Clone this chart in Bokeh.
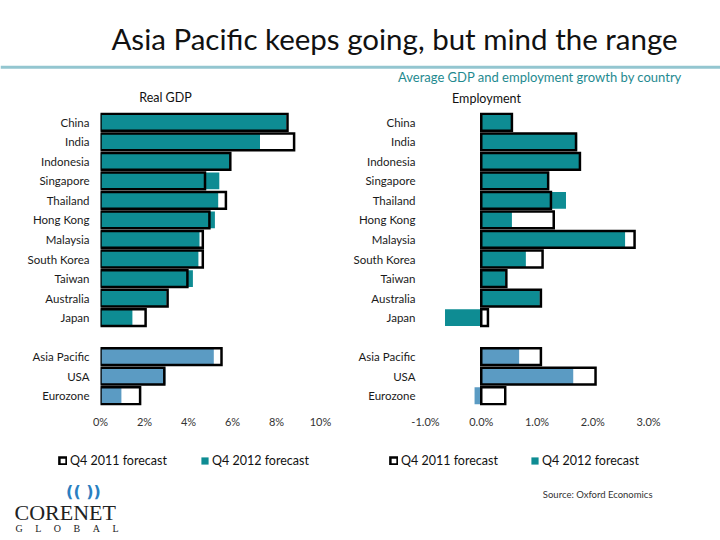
from bokeh.plotting import figure
from bokeh.models import (Range1d, FixedTicker, PrintfTickFormatter, Label, Span,
                          Legend, LegendItem, ColumnDataSource)
from bokeh.layouts import column, row
from bokeh.embed import file_html
from bokeh.resources import INLINE

# ---------------- data ----------------
countries = ["China", "India", "Indonesia", "Singapore", "Thailand", "Hong Kong",
             "Malaysia", "South Korea", "Taiwan", "Australia", "Japan"]
regions = ["Asia Pacific", "USA", "Eurozone"]

gdp_2011_c = [8.5, 8.8, 5.9, 4.75, 5.7, 4.95, 4.65, 4.65, 3.95, 3.05, 2.05]
gdp_2012_c = [8.45, 7.25, 5.85, 5.4, 5.35, 5.2, 4.5, 4.45, 4.2, 3.0, 1.45]
gdp_2011_r = [5.5, 2.9, 1.8]
gdp_2012_r = [5.15, 2.95, 0.95]

emp_2011_c = [0.55, 1.7, 1.77, 1.2, 1.25, 1.3, 2.75, 1.1, 0.45, 1.07, 0.12]
emp_2012_c = [0.55, 1.72, 1.77, 1.2, 1.52, 0.55, 2.58, 0.8, 0.43, 1.05, -0.65]
emp_2011_r = [1.07, 2.05, 0.43]
emp_2012_r = [0.68, 1.65, -0.12]

gdp_ticks = [0, 2, 4, 6, 8, 10]
emp_ticks = [-1.0, 0.0, 1.0, 2.0, 3.0]

series_labels = ["Q4 2011 forecast", "Q4 2012 forecast"]

TEAL = "#0E8C93"
LIGHT = "#5B9BC3"
FONT = "Lato"
NB = "\u00a0"

names = countries + regions
ypos = list(range(len(countries))) + [len(countries) + 1 + i for i in range(len(regions))]
colors = [TEAL] * len(countries) + [LIGHT] * len(regions)


def blank(p):
    p.outline_line_color = None
    p.xgrid.visible = False
    p.ygrid.visible = False


def chart(width, border_left, frame_w, xr, ticks, fmt, v2011, v2012, standoff):
    p = figure(width=width, height=335, output_backend="svg", toolbar_location=None,
               x_range=Range1d(*xr), y_range=Range1d(len(names) + 0.5, -0.5),
               min_border_left=border_left, min_border_right=width - border_left - frame_w,
               min_border_top=7, min_border_bottom=35)
    blank(p)
    src = ColumnDataSource(dict(y=ypos, v11=v2011, v12=v2012, c=colors))
    p.hbar(y="y", left=0, right="v12", height=0.86, fill_color="c",
           line_color=None, source=src)
    p.hbar(y="y", left=0, right="v11", height=0.86, fill_color=None,
           line_color="black", line_width=2.5, line_join="miter", source=src)

    ya = p.yaxis[0]
    ya.ticker = FixedTicker(ticks=ypos)
    ya.major_label_overrides = {y: n for y, n in zip(ypos, names)}
    ya.axis_line_color = None
    ya.major_tick_line_color = None
    ya.minor_tick_line_color = None
    ya.major_label_standoff = standoff
    ya.major_label_text_font = FONT
    ya.major_label_text_font_size = "11.5px"
    ya.major_label_text_color = "#1a1a1a"

    xa = p.xaxis[0]
    xa.ticker = FixedTicker(ticks=ticks)
    xa.formatter = PrintfTickFormatter(format=fmt)
    xa.axis_line_color = None
    xa.major_tick_line_color = None
    xa.minor_tick_line_color = None
    xa.major_label_standoff = 3
    xa.major_label_text_font = FONT
    xa.major_label_text_font_size = "11px"
    xa.major_label_text_color = "#333333"
    return p


left = chart(340, 100, 220, (0, 10), gdp_ticks, "%d%%", gdp_2011_c + gdp_2011_r,
             gdp_2012_c + gdp_2012_r, 5)
right = chart(380, 85, 223, (-1.0, 3.0), emp_ticks, "%.1f%%", emp_2011_c + emp_2011_r,
              emp_2012_c + emp_2012_r, 4)

# ---------------- header ----------------
header = figure(width=720, height=105, output_backend="svg", toolbar_location=None,
                x_range=Range1d(0, 720), y_range=Range1d(105, 0),
                min_border=0, x_axis_type=None, y_axis_type=None)
blank(header)
header.add_layout(Span(location=66.7, dimension="width", line_color="#93C6D0", line_width=3))
header.add_layout(Label(x=394, y=38, text="Asia Pacific keeps going, but mind the range",
                        text_align="center", text_baseline="middle", text_font=FONT,
                        text_font_size="29.5px", text_color="#111111"))
header.add_layout(Label(x=681.5, y=76.5, text="Average GDP and employment growth by country",
                        text_align="right", text_baseline="middle", text_font=FONT,
                        text_font_size="13px", text_color="#1F8A90"))
header.add_layout(Label(x=165, y=96.5, text="Real GDP", text_align="center",
                        text_baseline="middle", text_font=FONT,
                        text_font_size="12.5px", text_color="#111111"))
header.add_layout(Label(x=486, y=97.5, text="Employment", text_align="center",
                        text_baseline="middle", text_font=FONT,
                        text_font_size="12.5px", text_color="#111111"))

# ---------------- legends ----------------
legfig = figure(width=720, height=40, output_backend="svg", toolbar_location=None,
                x_range=Range1d(0, 720), y_range=Range1d(0, 40),
                min_border=0, x_axis_type=None, y_axis_type=None)
blank(legfig)
# zero-size proxy glyphs that only carry the legend styling
proxy = ColumnDataSource(dict(y=[0], r=[0]))
r11 = legfig.hbar(y="y", left="r", right="r", height=0, fill_color=None,
                  line_color="black", line_width=2.5, line_join="miter", source=proxy)
r12 = legfig.hbar(y="y", left="r", right="r", height=0, fill_color=TEAL,
                  line_color=None, source=proxy)
for lx, rend, lab in [(58, r11, series_labels[0]), (200, r12, series_labels[1]),
                      (389, r11, series_labels[0]), (530, r12, series_labels[1])]:
    legfig.add_layout(Legend(items=[LegendItem(label=lab, renderers=[rend], index=0)],
                             location=(lx, 12), orientation="horizontal",
                             padding=0, margin=0, spacing=0, glyph_width=9, glyph_height=9,
                             label_standoff=3, border_line_color=None,
                             background_fill_alpha=0, label_text_font=FONT,
                             label_text_font_size="12.5px", label_text_color="#111111",
                             label_height=14), "center")

# ---------------- footer ----------------
footer = figure(width=720, height=60, output_backend="svg", toolbar_location=None,
                x_range=Range1d(0, 720), y_range=Range1d(60, 0),
                min_border=0, x_axis_type=None, y_axis_type=None)
blank(footer)
footer.add_layout(Label(x=652, y=14, text="Source: Oxford Economics", text_align="right",
                        text_baseline="middle", text_font=FONT, text_font_size="9.5px",
                        text_color="#333333"))
footer.add_layout(Label(x=83, y=11, text="((" + NB + "))", text_align="center",
                        text_baseline="middle", text_font="DejaVu Sans",
                        text_font_style="bold", text_font_size="16px", text_color="#2A7FC1"))
footer.add_layout(Label(x=14, y=32, text="CORENET", text_align="left",
                        text_baseline="middle", text_font="Liberation Serif",
                        text_font_size="22px", text_color="#222222"))
footer.add_layout(Label(x=15, y=48, text=(NB * 5).join("GLOBAL"),
                        text_align="left", text_baseline="middle",
                        text_font="Liberation Serif", text_font_size="10px",
                        text_color="#222222"))

layout = column(header, row(left, right), legfig, footer)
open("out.html", "w").write(file_html(layout, INLINE))
